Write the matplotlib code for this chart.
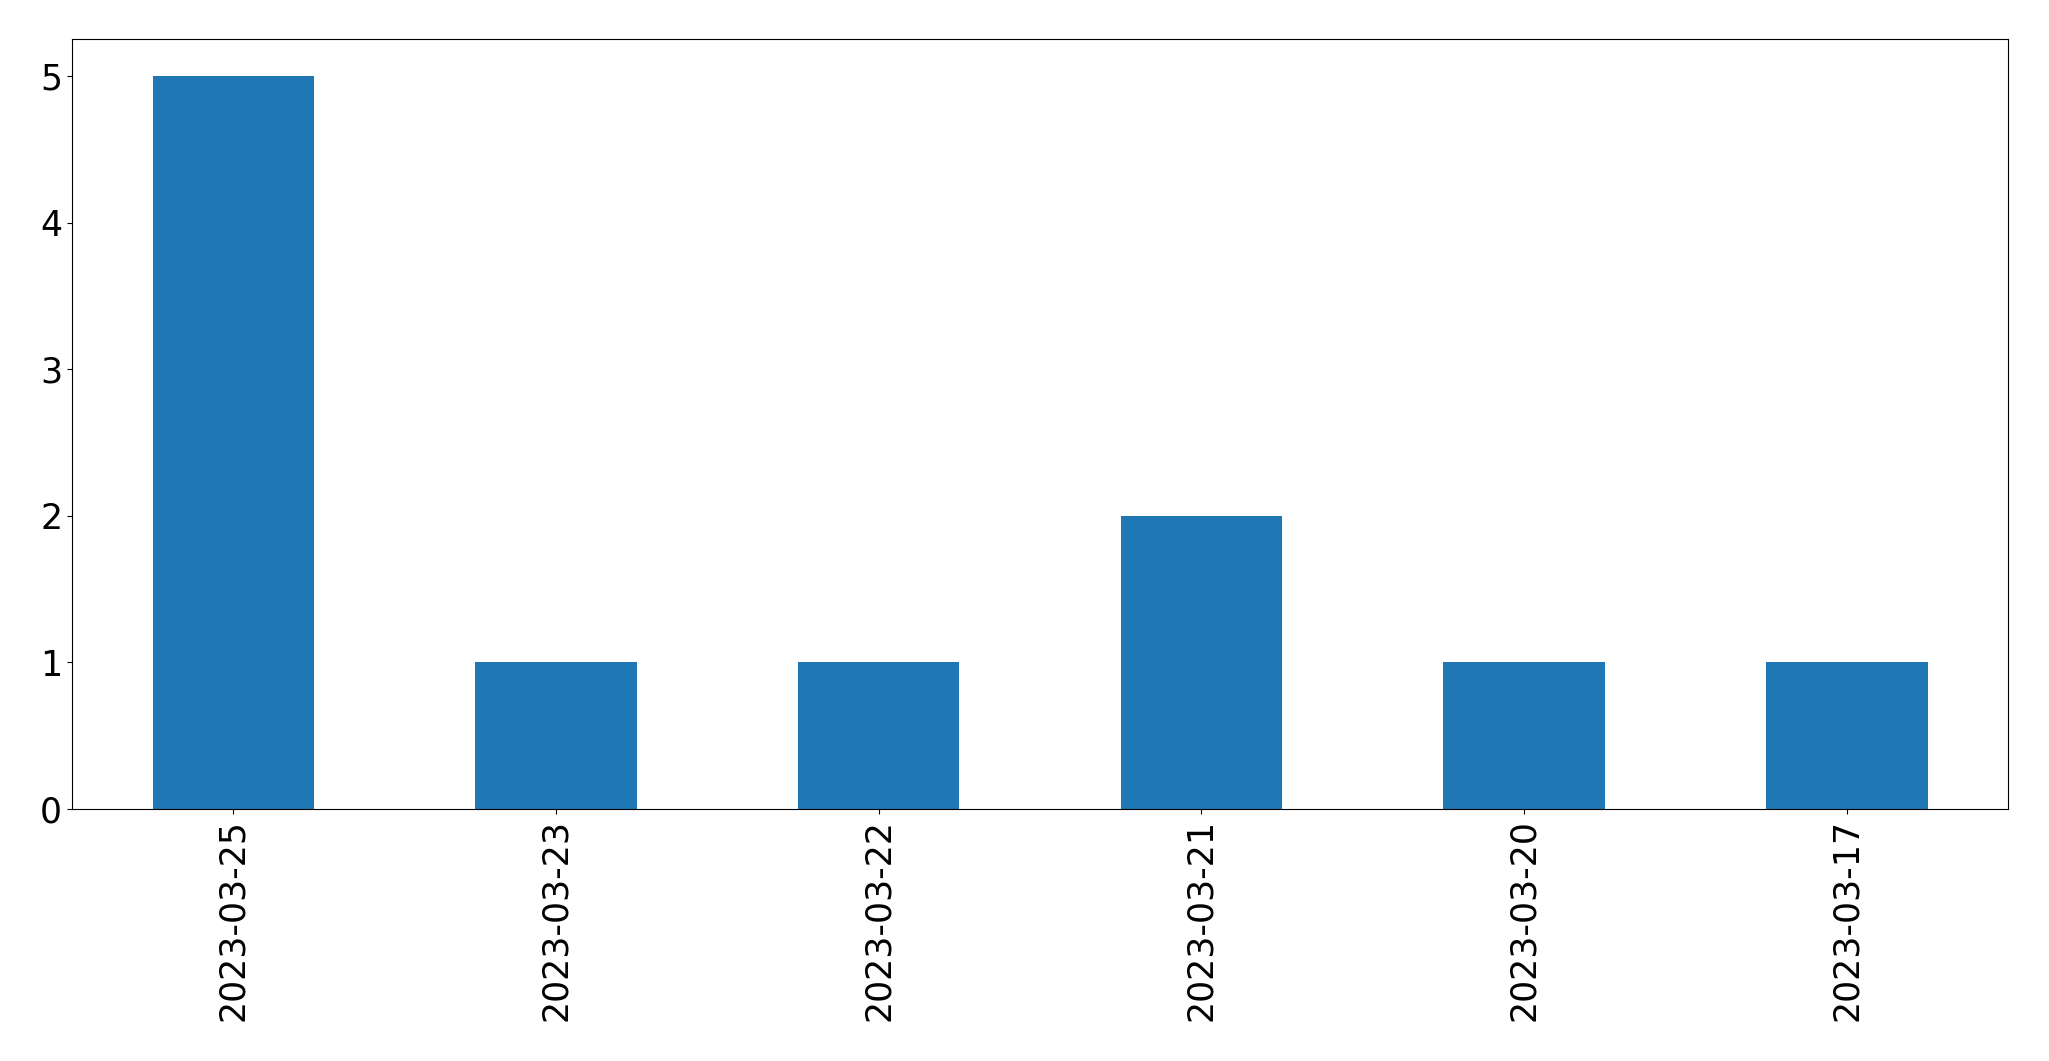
import matplotlib
matplotlib.use("Agg")
import matplotlib.pyplot as plt
import pandas as pd

dates = ['2023-03-25', '2023-03-23', '2023-03-22', '2023-03-21', '2023-03-20', '2023-03-17']
counts = [5, 1, 1, 2, 1, 1]

series = pd.Series(counts, index=dates)

fig = plt.figure(figsize=(20.49, 10.61), dpi=100)
ax = fig.add_axes([0.0351, 0.2375, 0.945, 0.7255])
series.plot(kind='bar', ax=ax, color='#1f77b4', fontsize=25)
ax.set_xlabel('')

fig.savefig('out.png', dpi=100)
